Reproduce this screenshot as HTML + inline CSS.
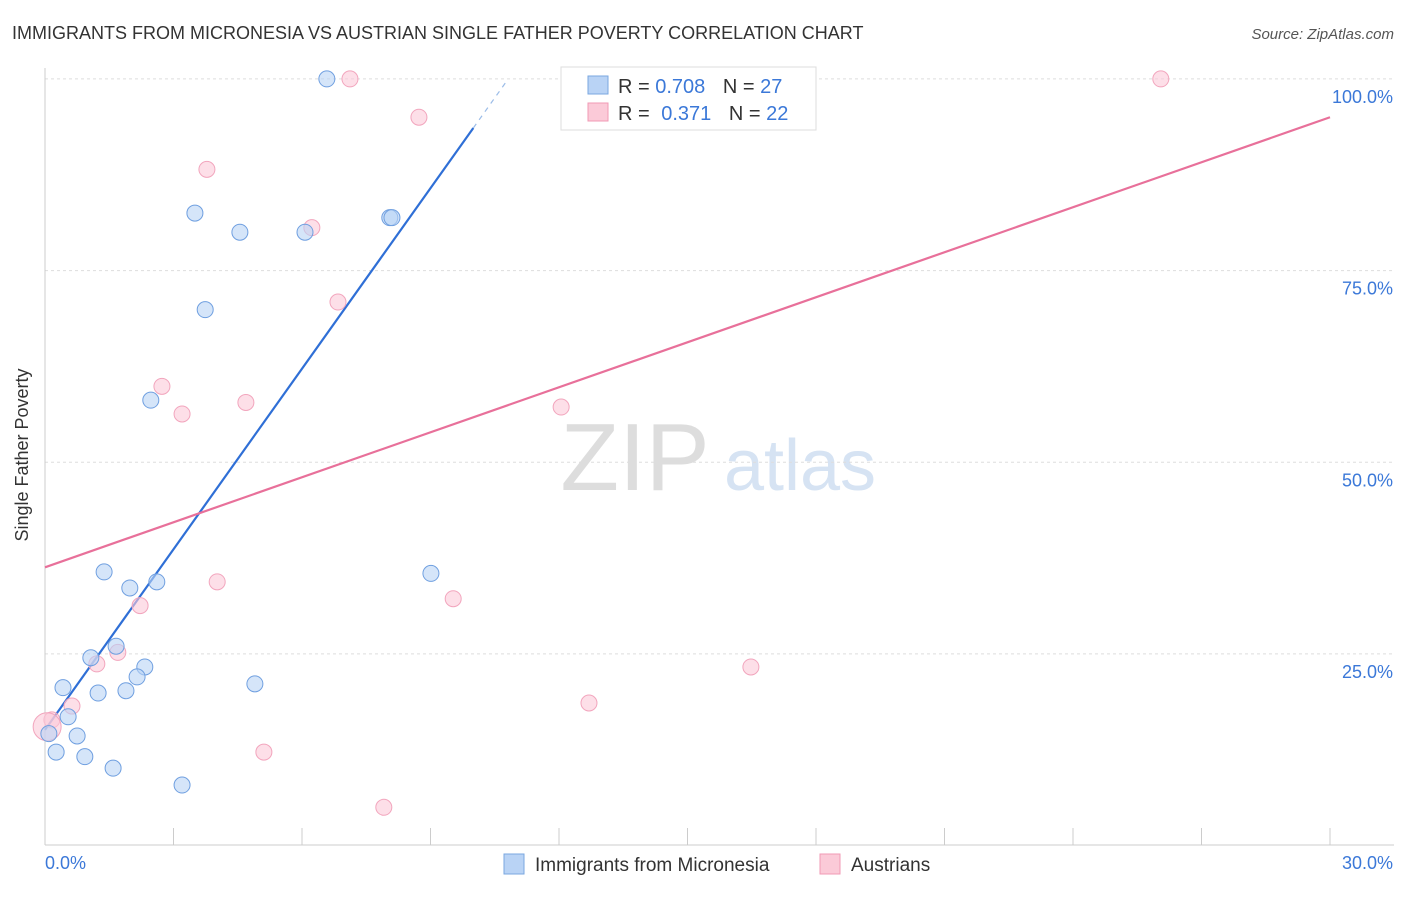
<!DOCTYPE html>
<html><head><meta charset="utf-8"><style>
body{margin:0;background:#fff;font-family:"Liberation Sans",sans-serif}
svg text{font-family:"Liberation Sans",sans-serif}
</style></head><body>
<svg width="1406" height="892">
<text x="12" y="39" font-size="18" fill="#333">IMMIGRANTS FROM MICRONESIA VS AUSTRIAN SINGLE FATHER POVERTY CORRELATION CHART</text>
<text x="1394" y="39" font-size="15" fill="#555" font-style="italic" text-anchor="end">Source: ZipAtlas.com</text>
<g><text x="635" y="490" font-size="96" fill="#ddd" font-family="Liberation Serif" text-anchor="middle">ZIP</text><text x="800" y="490" font-size="72" fill="#d6e3f3" text-anchor="middle">atlas</text></g>
<g id="grid"></g><g id="axes"></g><g id="lines"></g><g id="pts"></g>
<text x="28" y="455" font-size="18" fill="#333" transform="rotate(-90 28 455)" text-anchor="middle">Single Father Poverty</text>
<g>
<rect x="561" y="67" width="255" height="63" fill="#fff" stroke="#ddd"/>
<rect x="588" y="76" width="20" height="18" fill="#b9d3f5" stroke="#7aa7e0"/>
<rect x="588" y="103" width="20" height="18" fill="#fbcad8" stroke="#f09ab5"/>
<text x="618" y="93" font-size="20" fill="#333">R = <tspan fill="#3b78d8">0.708</tspan>  <tspan dx="12">N = </tspan><tspan fill="#3b78d8">27</tspan></text>
<text x="618" y="120" font-size="20" fill="#333">R = <tspan fill="#3b78d8" dx="6">0.371</tspan>  <tspan dx="12">N = </tspan><tspan fill="#3b78d8">22</tspan></text>
</g>
<g>
<rect x="504" y="854" width="20" height="20" fill="#b9d3f5" stroke="#7aa7e0"/>
<text x="535" y="871" font-size="19" fill="#333">Immigrants from Micronesia</text>
<rect x="820" y="854" width="20" height="20" fill="#fbcad8" stroke="#f09ab5"/>
<text x="851" y="871" font-size="19" fill="#333">Austrians</text>
</g>
</svg>
<script>
const yTicks=[25,50,75,100];
const yTickLabels=["25.0%","50.0%","75.0%","100.0%"];
const blueX=[6.58,3.50,4.55,6.07,8.05,8.10,3.74,2.47,1.38,1.98,2.61,9.01,1.66,1.07,2.33,2.15,0.42,1.24,1.89,4.90,0.54,0.09,0.75,0.26,0.93,1.59,3.20];
const blueY=[100,82.5,80.0,80.0,81.9,81.9,69.9,58.1,35.7,33.6,34.4,35.5,26.0,24.5,23.3,22.0,20.6,19.9,20.2,21.1,16.8,14.6,14.3,12.2,11.6,10.1,7.9];
const pinkX=[7.12,26.05,8.73,3.78,6.23,6.84,2.73,3.20,4.69,12.05,4.02,2.22,9.53,1.70,1.21,16.48,12.70,0.63,0.16,5.11,7.91,0.05];
const pinkY=[100,100,95.0,88.2,80.6,70.9,59.9,56.3,57.8,57.2,34.4,31.3,32.2,25.2,23.7,23.3,18.6,18.2,16.4,12.2,5.0,15.5];
const blueTrend=[[0,15.1],[10,93.6]];
const pinkTrend=[[0,36.3],[30,95.0]];
const X=v=>45+v/30*1285, Y=v=>845.6-v*7.667;
const NS="http://www.w3.org/2000/svg";
function mk(p,t,a){const e=document.createElementNS(NS,t);for(const k in a)e.setAttribute(k,a[k]);document.getElementById(p).appendChild(e);return e;}
yTicks.forEach((t,i)=>{
 const g=mk('grid','line',{x1:45,x2:1394,y1:Y(t),y2:Y(t),stroke:'#ddd','stroke-dasharray':'3,3'});
 
 
 const l=mk('axes','text',{x:1393,y:Y(t)+24,'font-size':18,fill:'#3b78d8','text-anchor':'end'});
 l.textContent=yTickLabels[i];
 
 
});
const ax=mk('axes','line',{x1:45,x2:1394,y1:845,y2:845,stroke:'#ccc'});


const ay=mk('axes','line',{x1:45,x2:45,y1:68,y2:845,stroke:'#ccc'});


for(let i=1;i<=10;i++){const t=mk('axes','line',{x1:X(i*3),x2:X(i*3),y1:828,y2:845,stroke:'#ccc'});
 
 }
[['0.0%',45,'start'],['30.0%',1393,'end']].forEach(d=>{const t=mk('axes','text',{x:d[1],y:869,'font-size':18,fill:'#3b78d8','text-anchor':d[2]});t.textContent=d[0];
 
 });
pinkX.forEach((x,i)=>{const c=mk('pts','circle',{cx:X(x),cy:Y(pinkY[i]),r:i==21?14:8,fill:'#fbcad8','fill-opacity':0.6,stroke:'#f2a5bd'});
 
 });
blueX.forEach((x,i)=>{const c=mk('pts','circle',{cx:X(x),cy:Y(blueY[i]),r:8,fill:'#b9d3f5','fill-opacity':0.6,stroke:'#6f9fe0'});
 
 });
const s=(blueTrend[1][1]-blueTrend[0][1])/(blueTrend[1][0]-blueTrend[0][0]);
const bl=mk('lines','line',{x1:X(blueTrend[0][0]),y1:Y(blueTrend[0][1]),x2:X(blueTrend[1][0]),y2:Y(blueTrend[1][1]),stroke:'#2f6fd6','stroke-width':2.2});


const xe=blueTrend[1][0]+0.8;
const bd=mk('lines','line',{x1:X(blueTrend[1][0]),y1:Y(blueTrend[1][1]),x2:X(xe),y2:Y(blueTrend[1][1]+s*0.8),stroke:'#9bbce8','stroke-width':1.2,'stroke-dasharray':'5,5'});


const pl=mk('lines','line',{x1:X(pinkTrend[0][0]),y1:Y(pinkTrend[0][1]),x2:X(pinkTrend[1][0]),y2:Y(pinkTrend[1][1]),stroke:'#e8709a','stroke-width':2.2});


</script>
</body></html>
